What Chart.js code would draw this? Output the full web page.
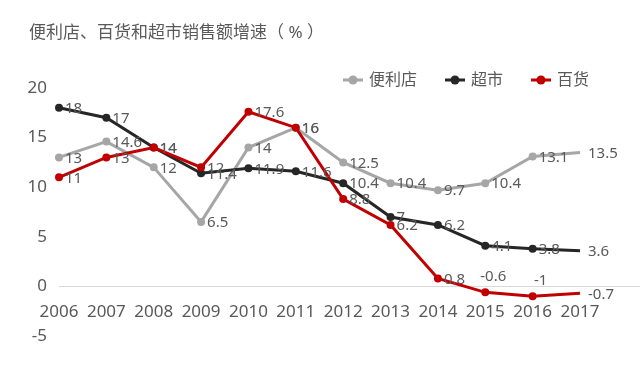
<!DOCTYPE html>
<html>
<head>
<meta charset="utf-8">
<script src="https://cdn.jsdelivr.net/npm/chart.js@4.4.1/dist/chart.umd.min.js"></script>
<style>
  html, body { margin: 0; padding: 0; background: #fff; }
  #wrap { width: 640px; height: 366px; }
</style>
</head>
<body>
<div id="wrap"><canvas id="growthChart" width="640" height="366"></canvas></div>
<script>
// data
const years = ['2006', '2007', '2008', '2009', '2010', '2011', '2012', '2013', '2014', '2015', '2016', '2017'];
const convenience = [13, 14.6, 12, 6.5, 14, 16, 12.5, 10.4, 9.7, 10.4, 13.1, 13.5];
const supermarket = [18, 17, 14, 11.4, 11.9, 11.6, 10.4, 7, 6.2, 4.1, 3.8, 3.6];
const department = [11, 13, 14, 12, 17.6, 16, 8.8, 6.2, 0.8, -0.6, -1, -0.7];
const yTicks = [-5, 0, 5, 10, 15, 20];

const titleText = '便利店、百货和超市销售额增速（ % ）';
const textColor = '#595959';
const fontFamily = "'Noto Sans', 'Noto Sans CJK SC', sans-serif";

// labels drawn above the point instead of to the right
const labelsAbove = { '百货': [9, 10] };

// Function to draw title, legend, value labels and the long zero line
const decorPlugin = {
    id: 'decor',
    afterDatasetsDraw(chart) {
        const ctx = chart.ctx;
        const y = chart.scales.y;
        const x = chart.scales.x;
        ctx.save();

        // zero line runs on to the right edge
        const y0 = Math.round(y.getPixelForValue(0)) + 0.5;
        ctx.strokeStyle = '#d9d9d9';
        ctx.lineWidth = 1;
        ctx.beginPath();
        ctx.moveTo(x.right, y0);
        ctx.lineTo(chart.width, y0);
        ctx.stroke();

        // value labels
        ctx.font = '15px ' + fontFamily;
        ctx.fillStyle = textColor;
        chart.data.datasets.forEach((ds, di) => {
            const meta = chart.getDatasetMeta(di);
            const above = labelsAbove[ds.label] || [];
            meta.data.forEach((pt, i) => {
                const txt = String(ds.data[i]);
                if (above.includes(i)) {
                    ctx.textAlign = 'center';
                    ctx.textBaseline = 'middle';
                    ctx.fillText(txt, pt.x + 8, pt.y - 16);
                } else {
                    ctx.textAlign = 'left';
                    ctx.textBaseline = 'middle';
                    const gap = i === ds.data.length - 1 ? 8 : 6;
                    ctx.fillText(txt, pt.x + gap, pt.y + 1);
                }
            });
        });

        // title
        ctx.font = '17px ' + fontFamily;
        ctx.textAlign = 'left';
        ctx.textBaseline = 'middle';
        ctx.fillText(titleText, 29, 33);

        // legend
        ctx.font = '16px ' + fontFamily;
        let lx = 343;
        chart.data.datasets.forEach(ds => {
            ctx.strokeStyle = ds.borderColor;
            ctx.lineWidth = 3;
            ctx.beginPath();
            ctx.moveTo(lx, 80);
            ctx.lineTo(lx + 20, 80);
            ctx.stroke();
            ctx.fillStyle = ds.borderColor;
            ctx.beginPath();
            ctx.arc(lx + 10, 80, 4.5, 0, Math.PI * 2);
            ctx.fill();
            ctx.fillStyle = textColor;
            ctx.fillText(ds.label, lx + 26, 80);
            lx += 26 + ctx.measureText(ds.label).width + 28;
        });

        ctx.restore();
    }
};

const markerRadius = c => (c.dataIndex === years.length - 1 ? 0 : 4);

function makeSet(label, data, color, order) {
    return {
        label: label,
        data: data,
        borderColor: color,
        backgroundColor: color,
        borderWidth: 3,
        pointRadius: markerRadius,
        pointHoverRadius: markerRadius,
        pointBorderWidth: 0,
        tension: 0,
        order: order
    };
}

const chart = new Chart(document.getElementById('growthChart'), {
    type: 'line',
    data: {
        labels: years,
        datasets: [
            makeSet('便利店', convenience, '#a6a6a6', 2),
            makeSet('超市', supermarket, '#262626', 1),
            makeSet('百货', department, '#c00000', 0)
        ]
    },
    options: {
        responsive: false,
        animation: false,
        layout: { padding: { top: 88, bottom: 30, left: 0, right: 60 } },
        plugins: {
            legend: { display: false },
            title: { display: false },
            tooltip: { enabled: false }
        },
        scales: {
            x: {
                position: { y: 0 },
                offset: false,
                grid: { display: false, drawTicks: false },
                border: { display: true, color: '#d9d9d9', width: 1 },
                ticks: {
                    color: textColor,
                    font: { size: 17, family: fontFamily },
                    padding: 16,
                    maxRotation: 0,
                    autoSkip: false
                }
            },
            y: {
                min: -5,
                max: 20,
                afterBuildTicks: s => { s.ticks = yTicks.map(v => ({ value: v })); },
                afterFit: s => { s.width = 59; },
                grid: { display: false, drawTicks: false },
                border: { display: false },
                ticks: {
                    color: textColor,
                    font: { size: 17, family: fontFamily },
                    padding: 12
                }
            }
        }
    },
    plugins: [decorPlugin]
});
</script>
</body>
</html>
